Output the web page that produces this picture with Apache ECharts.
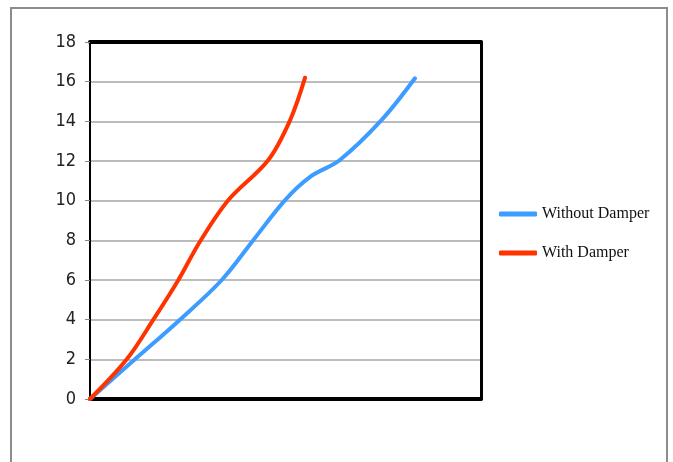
<!DOCTYPE html>
<html>
<head>
<meta charset="utf-8">
<script src="https://cdn.jsdelivr.net/npm/echarts@6/dist/echarts.min.js"></script>
<style>html,body{margin:0;padding:0;background:#fff}#c{width:673px;height:462px}</style>
</head>
<body>
<div id="c"></div>
<script>
var yTicks = [0, 2, 4, 6, 8, 10, 12, 14, 16, 18];
var seriesNames = ["Without Damper", "With Damper"];
var withoutX = [0, 11.5, 23.0, 33.7, 41.8, 49.9, 56.3, 63.9, 74.6, 83.1];
var withoutY = [0, 2, 4, 6, 8.02, 10.03, 11.2, 12.05, 14.07, 16.17];
var withX = [0, 9.4, 16.2, 22.6, 28.1, 35.4, 45.6, 51.2, 55.0];
var withY = [0, 2, 4, 6, 7.93, 10.03, 12.05, 14.07, 16.2];

function pairs(xs, ys) { return xs.map(function (x, i) { return [x, ys[i]]; }); }

var chart = echarts.init(document.getElementById('c'), null, { renderer: 'canvas' });
chart.setOption({
  animation: false,
  backgroundColor: '#fff',
  graphic: [{
    type: 'rect', shape: { x: 11, y: 8, width: 656, height: 470 },
    style: { fill: 'none', stroke: '#8c8c8c', lineWidth: 2 }, z: 0
  }],
  grid: { left: 90, right: 192, top: 42, bottom: 63, show: false },
  legend: {
    orient: 'vertical', left: 494, top: 201,
    itemWidth: 38, itemHeight: 5, itemGap: 23, icon: 'roundRect',
    textStyle: { fontFamily: 'Liberation Serif', fontSize: 16, color: '#111' },
    data: seriesNames
  },
  xAxis: [{
    type: 'value', min: 0, max: 100, position: 'bottom',
    axisLine: { show: true, onZero: false, lineStyle: { color: '#000', width: 4 } },
    axisTick: { show: false }, axisLabel: { show: false }, splitLine: { show: false }
  }, {
    type: 'value', min: 0, max: 100, position: 'top',
    axisLine: { show: true, onZero: false, lineStyle: { color: '#000', width: 4 } },
    axisTick: { show: false }, axisLabel: { show: false }, splitLine: { show: false }
  }],
  yAxis: [{
    type: 'value', min: yTicks[0], max: yTicks[yTicks.length - 1], interval: 2, position: 'left',
    axisLine: { show: true, onZero: false, lineStyle: { color: '#000', width: 2 } },
    axisTick: { show: true, length: 5, lineStyle: { color: '#888', width: 1 } },
    axisLabel: { margin: 14, fontFamily: 'Liberation Sans Narrow, DejaVu Sans Condensed, sans-serif', fontSize: 18, color: '#222' },
    splitLine: { show: true, lineStyle: { color: '#a6a6a6', width: 1.5 } }
  }, {
    type: 'value', min: yTicks[0], max: yTicks[yTicks.length - 1], interval: 2, position: 'right',
    axisLine: { show: true, onZero: false, lineStyle: { color: '#000', width: 3 } },
    axisTick: { show: false }, axisLabel: { show: false }, splitLine: { show: false }
  }],
  series: [
    { name: seriesNames[0], type: 'line', data: pairs(withoutX, withoutY), smooth: 0.35, showSymbol: false,
      lineStyle: { color: '#3d9cff', width: 4, cap: 'round' }, itemStyle: { color: '#3d9cff' } },
    { name: seriesNames[1], type: 'line', data: pairs(withX, withY), smooth: 0.35, showSymbol: false,
      lineStyle: { color: '#ff3300', width: 4, cap: 'round' }, itemStyle: { color: '#ff3300' } }
  ]
});
</script>
</body>
</html>
